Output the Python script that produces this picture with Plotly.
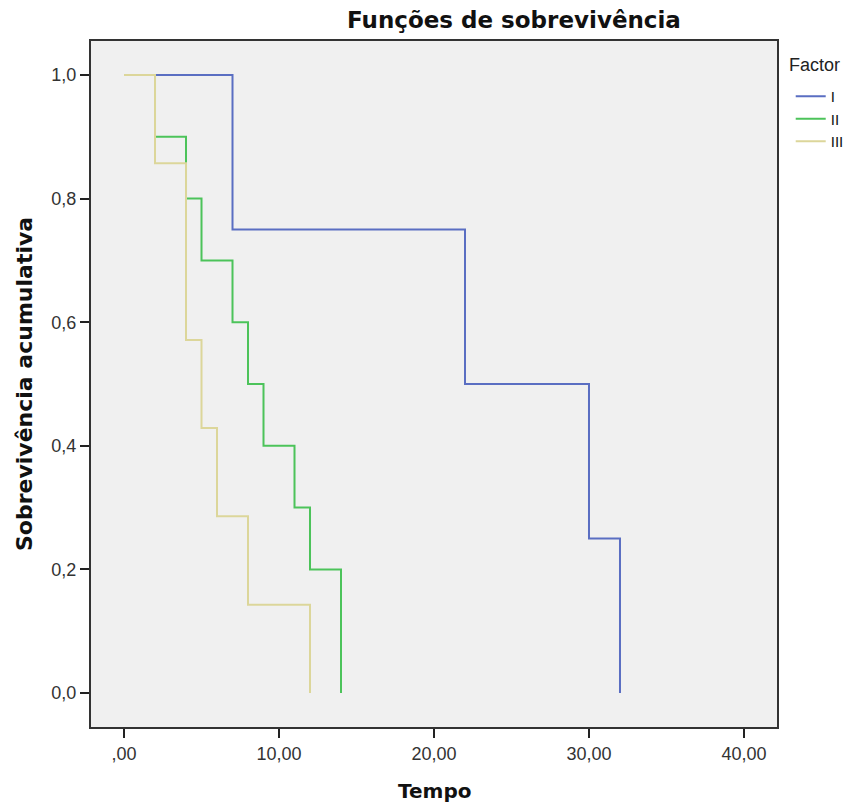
import plotly.graph_objects as go

# Data
series_names = ["I", "II", "III"]
times_I = [0, 7, 22, 30, 32]
surv_I = [1.0, 0.75, 0.5, 0.25, 0.0]
times_II = [0, 2, 4, 5, 7, 8, 9, 11, 12, 14]
surv_II = [1.0, 0.9, 0.8, 0.7, 0.6, 0.5, 0.4, 0.3, 0.2, 0.0]
times_III = [0, 2, 4, 5, 6, 8, 12]
surv_III = [1.0, 0.857, 0.571, 0.429, 0.286, 0.143, 0.0]

x_tickvals = [0, 10, 20, 30, 40]
x_ticktext = [",00", "10,00", "20,00", "30,00", "40,00"]
y_tickvals = [0, 0.2, 0.4, 0.6, 0.8, 1.0]
y_ticktext = ["0,0", "0,2", "0,4", "0,6", "0,8", "1,0"]

colors = ["#5a6ec2", "#4cc35a", "#dcd69a"]

fig = go.Figure()
for name, t, s, c in zip(series_names, [times_I, times_II, times_III],
                         [surv_I, surv_II, surv_III], colors):
    fig.add_trace(go.Scatter(x=t, y=s, mode="lines", name=name,
                             line=dict(color=c, width=2, shape="hv")))

tick_font = "Liberation Sans, Arial, sans-serif"
title_font = "DejaVu Sans, sans-serif"
# page body has an 8px margin; figure is sized to fit the 854x805 window
fig.update_layout(
    width=846, height=797,
    margin=dict(l=83, r=77, t=33, b=78, autoexpand=False),
    paper_bgcolor="white",
    plot_bgcolor="#f0f0f0",
    font=dict(family=tick_font, size=18, color="#333333"),
    showlegend=True,
    legend=dict(
        x=1.02, y=0.943, xanchor="left", yanchor="top",
        bgcolor="rgba(0,0,0,0)", font=dict(size=15, color="#111111"),
        tracegroupgap=0, itemwidth=30,
    ),
    xaxis=dict(
        range=[-2.13, 42.13], tickvals=x_tickvals, ticktext=x_ticktext,
        showgrid=False, zeroline=False, ticks="outside", ticklen=9,
        tickwidth=2, tickcolor="#222222",
        showline=True, linecolor="#333333", linewidth=2, mirror=True,
    ),
    yaxis=dict(
        range=[-0.055, 1.055], tickvals=y_tickvals, ticktext=y_ticktext,
        showgrid=False, zeroline=False, ticks="outside", ticklen=9,
        tickwidth=2, tickcolor="#222222",
        showline=True, linecolor="#333333", linewidth=2, mirror=True,
    ),
    annotations=[
        dict(text="<b>Funções de sobrevivência</b>", xref="paper", yref="paper",
             x=(514 - 91) / 686, y=(727 - 20) / 686, xanchor="center", yanchor="middle",
             showarrow=False, font=dict(family=title_font, size=23, color="#111111")),
        dict(text="<b>Tempo</b>", xref="paper", yref="paper",
             x=0.5, y=(727 - 791) / 686, xanchor="center", yanchor="middle",
             showarrow=False, font=dict(family=title_font, size=20, color="#111111")),
        dict(text="<b>Sobrevivência acumulativa</b>", xref="paper", yref="paper",
             x=(24 - 91) / 686, y=0.5, xanchor="center", yanchor="middle",
             textangle=-90, showarrow=False,
             font=dict(family=title_font, size=22, color="#111111")),
        dict(text="Factor", xref="paper", yref="paper",
             x=(787 - 91) / 686, y=(727 - 65) / 686, xanchor="left", yanchor="middle",
             showarrow=False, font=dict(size=18, color="#222222")),
    ],
)

fig.write_html("out.html")
